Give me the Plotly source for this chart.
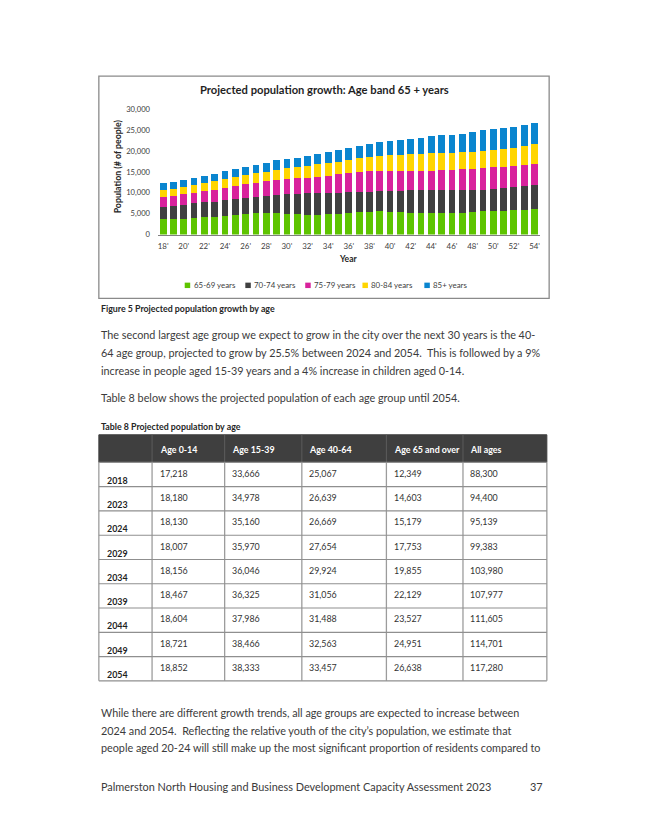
import plotly.graph_objects as go

# ---------------- data ----------------
years = [2018, 2019, 2020, 2021, 2022, 2023, 2024, 2025, 2026, 2027, 2028, 2029,
         2030, 2031, 2032, 2033, 2034, 2035, 2036, 2037, 2038, 2039, 2040, 2041,
         2042, 2043, 2044, 2045, 2046, 2047, 2048, 2049, 2050, 2051, 2052, 2053, 2054]
tick_years = [2018, 2020, 2022, 2024, 2026, 2028, 2030, 2032, 2034, 2036, 2038,
              2040, 2042, 2044, 2046, 2048, 2050, 2052, 2054]
tick_labels = ["18'", "20'", "22'", "24'", "26'", "28'", "30'", "32'", "34'", "36'",
               "38'", "40'", "42'", "44'", "46'", "48'", "50'", "52'", "54'"]

age_65_69 = [3630, 3790, 3790, 3870, 4100, 4270, 4500, 4740, 4980, 5130, 5130, 5130,
             4980, 4820, 4740, 4740, 4820, 4980, 5130, 5300, 5450, 5530, 5450, 5370,
             5200, 5050, 5050, 5130, 5130, 5200, 5370, 5530, 5600, 5700, 5850, 6000, 6160]
age_70_74 = [3080, 3160, 3400, 3630, 3640, 3630, 3700, 3790, 3870, 3950, 4190, 4350,
             4740, 4980, 5130, 5130, 5130, 5020, 4970, 4900, 4820, 4820, 4950, 5130,
             5400, 5610, 5610, 5530, 5530, 5460, 5290, 5130, 5200, 5360, 5450, 5600, 5740]
age_75_79 = [2290, 2370, 2450, 2450, 2610, 2760, 3000, 3070, 3240, 3320, 3480, 3620,
             3550, 3700, 3800, 3930, 4150, 4450, 4600, 4800, 4930, 4900, 4900, 4800,
             4650, 4590, 4640, 4740, 4840, 4940, 5140, 5300, 5300, 5140, 5050, 5000, 5000]
age_80_84 = [1580, 1580, 1730, 1820, 1890, 2060, 2070, 2200, 2110, 2300, 2200, 2300,
             2610, 2700, 2830, 3000, 3000, 3050, 3200, 3250, 3400, 3550, 3660, 3800,
             4020, 4180, 4300, 4270, 4170, 4150, 4000, 4020, 4100, 4250, 4350, 4700, 4700]
age_85_plus = [1769, 1660, 1660, 1730, 1740, 1883, 1909, 1800, 2000, 2050, 2200, 2353,
               2120, 2200, 2400, 2500, 2755, 2700, 2800, 2950, 3000, 3329, 3390, 3500,
               3580, 3770, 3927, 4080, 4280, 4450, 4750, 4971, 5000, 5100, 5150, 4900, 5038]

series_names = ["65-69 years", "70-74 years", "75-79 years", "80-84 years", "85+ years"]
series_values = [age_65_69, age_70_74, age_75_79, age_80_84, age_85_plus]
series_colors = ["#5EC400", "#404040", "#D8229C", "#FFD500", "#0A85CF"]

y_ticks = [0, 5000, 10000, 15000, 20000, 25000, 30000]

table_header = ["", "Age 0-14", "Age 15-39", "Age 40-64", "Age 65 and over", "All ages"]
table_years = ["2018", "2023", "2024", "2029", "2034", "2039", "2044", "2049", "2054"]
age_0_14 = ["17,218", "18,180", "18,130", "18,007", "18,156", "18,467", "18,604", "18,721", "18,852"]
age_15_39 = ["33,666", "34,978", "35,160", "35,970", "36,046", "36,325", "37,986", "38,466", "38,333"]
age_40_64 = ["25,067", "26,639", "26,669", "27,654", "29,924", "31,056", "31,488", "32,563", "33,457"]
age_65_over = ["12,349", "14,603", "15,179", "17,753", "19,855", "22,129", "23,527", "24,951", "26,638"]
all_ages = ["88,300", "94,400", "95,139", "99,383", "103,980", "107,977", "111,605", "114,701", "117,280"]

para1 = ["The second largest age group we expect to grow in the city over the next 30 years is the 40-",
         "64 age group, projected to grow by 25.5% between 2024 and 2054.  This is followed by a 9%",
         "increase in people aged 15-39 years and a 4% increase in children aged 0-14."]
para2 = ["Table 8 below shows the projected population of each age group until 2054."]
para3 = ["While there are different growth trends, all age groups are expected to increase between",
         "2024 and 2054.  Reflecting the relative youth of the city\u2019s population, we estimate that",
         "people aged 20-24 will still make up the most significant proportion of residents compared to"]
footer_text = "Palmerston North Housing and Business Development Capacity Assessment 2023"
page_number = "37"

# ---------------- layout helpers (page pixels -> paper) ----------------
W, H = 645, 834
def X(px):
    return px / W
def Y(py):
    return 1 - py / H

FONT = "Lato, 'Open Sans', sans-serif"
TXT = "#3b3b3b"
BODY = 10.8

fig = go.Figure()
for name, vals, col in zip(series_names, series_values, series_colors):
    fig.add_trace(go.Bar(x=years, y=vals, name=name, marker=dict(color=col, line=dict(width=0)),
                         showlegend=False))

plot_left, plot_right = 158.2, 540.5
plot_top, plot_bottom = 105.7, 232.3

fig.update_layout(
    width=W, height=H, margin=dict(l=0, r=0, t=0, b=0),
    paper_bgcolor="white", plot_bgcolor="white",
    barmode="stack", bargap=0.34,
    font=dict(family=FONT, color=TXT),
    xaxis=dict(domain=[X(plot_left), X(plot_right)], range=[2017.5, 2054.5],
               tickvals=tick_years, ticktext=tick_labels, showgrid=False,
               showline=True, linecolor="#808080", linewidth=1, ticks="",
               tickfont=dict(size=7.9, color="#404040"), ticklabelstandoff=4, fixedrange=True),
    yaxis=dict(domain=[Y(plot_bottom), Y(plot_top)], range=[0, 30000],
               tickvals=y_ticks, tickformat=",", showgrid=False, showline=False,
               zeroline=False, ticks="", tickfont=dict(size=7.6, color="#404040"),
               ticklabelstandoff=7, fixedrange=True),
)

shapes = []
ann = []

# chart border
shapes.append(dict(type="rect", xref="paper", yref="paper", x0=X(99), x1=X(550), y0=Y(72), y1=Y(297),
                   line=dict(color="#8a8a8a", width=1.3), fillcolor="rgba(0,0,0,0)", layer="below"))

ann.append(dict(text="<b>Projected population growth: Age band 65 + years</b>", x=X(325), y=Y(86),
                font=dict(size=11.2, color="#1f1f1f")))
ann.append(dict(text="<b>Year</b>", x=X(349), y=Y(257.5), font=dict(size=8.6, color="#262626")))
ann.append(dict(text="<b>Population (# of people)</b>", x=X(117.5), y=Y(163), textangle=-90,
                font=dict(size=8.8, color="#262626")))

# legend (manual)
legend_x = [185, 245.7, 305.7, 363, 425]
for lx, name, col in zip(legend_x, series_names, series_colors):
    shapes.append(dict(type="rect", xref="paper", yref="paper", x0=X(lx), x1=X(lx + 5.5),
                       y0=Y(286.5), y1=Y(281), fillcolor=col, line=dict(width=0)))
    ann.append(dict(text=name, x=X(lx + 7), y=Y(283.8), xanchor="left",
                    font=dict(size=7.9, color="#404040")))

ann.append(dict(text="<b>Figure 5 Projected population growth by age</b>", x=X(99), y=Y(307.5),
                xanchor="left", font=dict(size=8.8, color="#262626")))

for i, line in enumerate(para1):
    ann.append(dict(text=line, x=X(99), y=Y(334 + i * 18), xanchor="left", font=dict(size=BODY, color=TXT)))
for i, line in enumerate(para2):
    ann.append(dict(text=line, x=X(99), y=Y(397.5 + i * 18), xanchor="left", font=dict(size=BODY, color=TXT)))

ann.append(dict(text="<b>Table 8 Projected population by age</b>", x=X(99), y=Y(427),
                xanchor="left", font=dict(size=8.8, color="#262626")))

# table
col_edges = [99, 152.3, 225, 302.3, 387, 463.7, 547.7]
head_top, head_bot = 435, 463
tab_bot = 684
n_rows = len(table_years)
row_h = (tab_bot - head_bot) / n_rows
shapes.append(dict(type="rect", xref="paper", yref="paper", x0=X(col_edges[0]), x1=X(col_edges[-1]),
                   y0=Y(head_bot), y1=Y(head_top), fillcolor="#3f3f3f", line=dict(color="#3f3f3f", width=1)))
for cx in col_edges[1:-1]:
    shapes.append(dict(type="line", xref="paper", yref="paper", x0=X(cx), x1=X(cx),
                       y0=Y(head_bot), y1=Y(head_top), line=dict(color="#5c5c5c", width=1)))
for cx in col_edges:
    shapes.append(dict(type="line", xref="paper", yref="paper", x0=X(cx), x1=X(cx),
                       y0=Y(tab_bot), y1=Y(head_bot), line=dict(color="#9c9c9c", width=1.3)))
for r in range(n_rows + 1):
    yy = head_bot + r * row_h
    shapes.append(dict(type="line", xref="paper", yref="paper", x0=X(col_edges[0]), x1=X(col_edges[-1]),
                       y0=Y(yy), y1=Y(yy), line=dict(color="#8f8f8f", width=1.2)))
for c, h in enumerate(table_header):
    if h:
        ann.append(dict(text="<b>" + h + "</b>", x=X(col_edges[c] + 5.5), y=Y(450), xanchor="left",
                        font=dict(size=8.9, color="white")))
cols = [age_0_14, age_15_39, age_40_64, age_65_over, all_ages]
for r in range(n_rows):
    top = head_bot + r * row_h
    ann.append(dict(text="<b>" + table_years[r] + "</b>", x=X(col_edges[0] + 6), y=Y(top + row_h - 6.5),
                    xanchor="left", font=dict(size=8.9, color="#1f1f1f")))
    for c, colvals in enumerate(cols):
        ann.append(dict(text=colvals[r], x=X(col_edges[c + 1] + 5.5), y=Y(top + 11), xanchor="left",
                        font=dict(size=8.9, color="#333333")))

for i, line in enumerate(para3):
    ann.append(dict(text=line, x=X(99), y=Y(716 + i * 18), xanchor="left", font=dict(size=BODY, color=TXT)))

ann.append(dict(text=footer_text, x=X(99), y=Y(791), xanchor="left", font=dict(size=10.9, color=TXT)))
ann.append(dict(text=page_number, x=X(546), y=Y(791), xanchor="right", font=dict(size=10.9, color=TXT)))

for a in ann:
    a.setdefault("xref", "paper")
    a.setdefault("yref", "paper")
    a.setdefault("showarrow", False)
    a.setdefault("yanchor", "middle")
    a.setdefault("xanchor", "center")

fig.update_layout(shapes=shapes, annotations=ann)

fig.write_html("out.html", config={"displayModeBar": False, "staticPlot": True},
               post_script="document.body.style.margin='0';document.body.style.overflow='hidden';")
